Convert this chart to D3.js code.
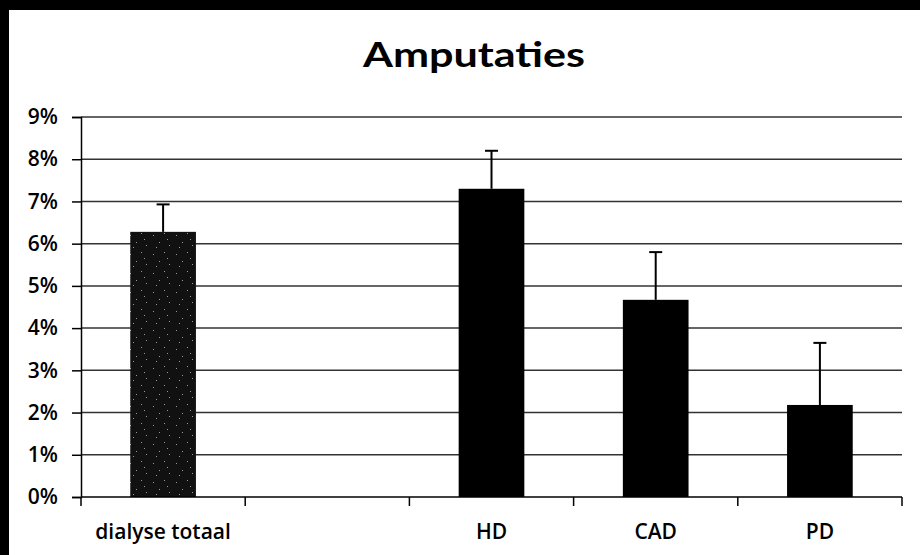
<!DOCTYPE html>
<meta charset="utf-8">
<style>
body { margin: 0; background: #fff; }
svg { display: block; }
.title { font-family: Lato, "DejaVu Sans", sans-serif; font-weight: bold; font-size: 34px; }
.axis text { font-family: "Open Sans", Lato, sans-serif; font-weight: 600; font-size: 21px; fill: #000; }
.axis path, .axis line { stroke: #000; stroke-width: 1.5; }
.grid line { stroke: #333; stroke-width: 1.5; }
.err { stroke: #000; stroke-width: 2; }
</style>
<body>
<svg width="920" height="555"></svg>
<script src="https://d3js.org/d3.v7.min.js"></script>
<script>

// categories (second slot is empty in the original chart)
let categories = ['dialyse totaal', '', 'HD', 'CAD', 'PD'];
let values = [0.0628, null, 0.0730, 0.0467, 0.0218];
let errors = [0.0065, null, 0.0090, 0.0113, 0.0147];
let yTicks = [0, 0.01, 0.02, 0.03, 0.04, 0.05, 0.06, 0.07, 0.08, 0.09];

var margin = {top: 117, right: 18, bottom: 58, left: 81}
  , width = 920 - margin.left - margin.right
  , height = 555 - margin.top - margin.bottom;

var svg = d3.select('svg');

// scanned black frame along the top and left
svg.append('rect').attr('x', 0).attr('y', 0).attr('width', 920).attr('height', 10).attr('fill', '#000');
svg.append('rect').attr('x', 0).attr('y', 0).attr('width', 9).attr('height', 555).attr('fill', '#000');

// speckle pattern for the first bar
var defs = svg.append('defs');
var pat = defs.append('pattern')
    .attr('id', 'speckle')
    .attr('patternUnits', 'userSpaceOnUse')
    .attr('width', 23).attr('height', 19);
pat.append('rect').attr('width', 23).attr('height', 19).attr('fill', '#111');
[[3, 4], [14, 2], [9, 11], [19, 14], [6, 16], [17, 8]].forEach(function(p) {
  pat.append('rect').attr('x', p[0]).attr('y', p[1]).attr('width', 1).attr('height', 1).attr('fill', '#999');
});

// the scan is stretched sideways, so the title is stretched to match
svg.append('text')
    .attr('class', 'title')
    .attr('x', 474)
    .attr('y', 67)
    .attr('text-anchor', 'middle')
    .attr('textLength', 222)
    .attr('lengthAdjust', 'spacingAndGlyphs')
    .text('Amputaties');

var g = svg.append('g')
    .attr('transform', 'translate(' + margin.left + ',' + margin.top + ')');

var xScale = d3.scaleBand()
    .domain(d3.range(categories.length))
    .range([0, width])
    .paddingInner(0.6)
    .paddingOuter(0.3);

var yScale = d3.scaleLinear()
    .domain([0, 0.09])
    .range([height, 0]);

// gridlines
g.append('g')
    .attr('class', 'grid')
    .selectAll('line')
    .data(yTicks.slice(1))
    .enter().append('line')
    .attr('x1', 0)
    .attr('x2', width)
    .attr('y1', d => yScale(d))
    .attr('y2', d => yScale(d));

var data = categories.map(function(c, i) {
  return {i: i, name: c, value: values[i], err: errors[i]};
}).filter(d => d.value != null);

g.selectAll('.bar')
    .data(data)
    .enter().append('rect')
    .attr('class', 'bar')
    .attr('x', d => xScale(d.i))
    .attr('y', d => yScale(d.value))
    .attr('width', xScale.bandwidth())
    .attr('height', d => height - yScale(d.value))
    .attr('fill', d => d.i === 0 ? 'url(#speckle)' : '#000');

// error bars (plus direction, cap on top)
var eb = g.selectAll('.errbar')
    .data(data)
    .enter().append('g')
    .attr('class', 'errbar');

eb.append('line')
    .attr('class', 'err')
    .attr('x1', d => xScale(d.i) + xScale.bandwidth() / 2)
    .attr('x2', d => xScale(d.i) + xScale.bandwidth() / 2)
    .attr('y1', d => yScale(d.value))
    .attr('y2', d => yScale(d.value + d.err));

eb.append('line')
    .attr('class', 'err')
    .attr('x1', d => xScale(d.i) + xScale.bandwidth() / 2 - 6.5)
    .attr('x2', d => xScale(d.i) + xScale.bandwidth() / 2 + 6.5)
    .attr('y1', d => yScale(d.value + d.err))
    .attr('y2', d => yScale(d.value + d.err));

// y axis
var yAxis = g.append('g')
    .attr('class', 'axis')
    .call(d3.axisLeft(yScale).tickValues(yTicks).tickFormat(d3.format('.0%')).tickSize(9).tickPadding(14));

// x axis: ticks on band boundaries, labels centred in bands
var step = width / categories.length;
var xb = g.append('g')
    .attr('class', 'axis')
    .attr('transform', 'translate(0,' + height + ')');

xb.append('line').attr('x1', 0).attr('x2', width).attr('y1', 0).attr('y2', 0);
xb.selectAll('.tk')
    .data(d3.range(categories.length + 1))
    .enter().append('line')
    .attr('class', 'tk')
    .attr('x1', d => d * step).attr('x2', d => d * step)
    .attr('y1', 0).attr('y2', 9);

xb.selectAll('.lbl')
    .data(categories)
    .enter().append('text')
    .attr('class', 'lbl')
    .attr('x', (d, i) => xScale(i) + xScale.bandwidth() / 2)
    .attr('y', 42)
    .attr('text-anchor', 'middle')
    .text(d => d);

</script>
</body>
